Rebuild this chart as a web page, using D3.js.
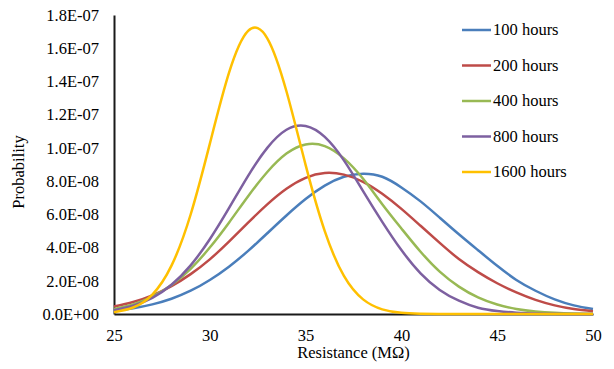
<!DOCTYPE html>
<html>
<head>
<meta charset="utf-8">
<script src="https://cdn.jsdelivr.net/npm/d3@7"></script>
<style>
  body { margin: 0; background: #fff; }
</style>
</head>
<body>
<svg width="614" height="369"></svg>
<script>
// Data, probability values in units of 1E-08
var resistance = d3.range(25, 51); // 25 .. 50 MOhm
var unit = 1e-8;

var seriesNames = ["100 hours", "200 hours", "400 hours", "800 hours", "1600 hours"];
var seriesColours = ["#4A7EBB", "#BE4B48", "#98B954", "#7D60A0", "#FFC000"];

var hours100 = [0.20, 0.35, 0.58, 0.92, 1.40, 2.05, 2.85, 3.80, 4.86, 5.93, 6.92, 7.73, 8.26,
                8.45, 8.26, 7.62, 6.78, 5.80, 4.80, 3.84, 2.90, 2.05, 1.40, 0.88, 0.52, 0.30];
var hours200 = [0.45, 0.72, 1.12, 1.68, 2.40, 3.29, 4.36, 5.50, 6.60, 7.54, 8.20, 8.49, 8.39,
                7.96, 7.24, 6.33, 5.31, 4.28, 3.31, 2.52, 1.85, 1.30, 0.85, 0.52, 0.30, 0.17];
var hours400 = [0.30, 0.58, 1.04, 1.74, 2.72, 4.00, 5.50, 7.09, 8.55, 9.66, 10.21, 10.11, 9.37,
                8.14, 6.61, 5.15, 3.75, 2.55, 1.65, 1.00, 0.57, 0.30, 0.15, 0.07, 0.03, 0.01];
var hours800 = [0.23, 0.50, 0.97, 1.76, 2.93, 4.50, 6.37, 8.32, 10.00, 11.09, 11.32, 10.66, 9.25,
                7.40, 5.55, 3.85, 2.45, 1.45, 0.80, 0.38, 0.18, 0.08, 0.03, 0.01, 0.00, 0.00];
var hours1600 = [0.11, 0.39, 1.17, 2.91, 5.99, 10.24, 14.51, 17.04, 16.60, 13.41, 8.98, 4.99, 2.29,
                 0.88, 0.28, 0.07, 0.02, 0.00, 0.00, 0.00, 0.00, 0.00, 0.00, 0.00, 0.00, 0.00];
var seriesValues = [hours100, hours200, hours400, hours800, hours1600];

// Ticks
var xTicks = [25, 30, 35, 40, 45, 50];
var yTicks = [0, 2e-8, 4e-8, 6e-8, 8e-8, 1e-7, 1.2e-7, 1.4e-7, 1.6e-7, 1.8e-7];

var font = "'Liberation Serif', serif";

// The svg
var svg = d3.select("svg");

var x = d3.scaleLinear()
    .domain([25, 50])
    .range([114, 593]);

var y = d3.scaleLinear()
    .domain([0, 1.8e-7])
    .range([314, 15]);

// Excel style 0.0E+00 labels
var sciFormat = function(v) {
    if (v === 0) return "0.0E+00";
    var e = Math.floor(Math.log10(v) + 1e-9);
    var m = v / Math.pow(10, e);
    var sign = e < 0 ? "-" : "+";
    return m.toFixed(1) + "E" + sign + (Math.abs(e) < 10 ? "0" : "") + Math.abs(e);
};

// Axes
svg.append("g")
    .attr("transform", "translate(0,314)")
    .call(d3.axisBottom(x)
        .tickValues(xTicks)
        .tickSize(0)
        .tickPadding(15)
        .tickFormat(d3.format("d")));

svg.append("g")
    .attr("transform", "translate(114,0)")
    .call(d3.axisLeft(y)
        .tickValues(yTicks)
        .tickSize(0)
        .tickPadding(15)
        .tickFormat(sciFormat));

svg.selectAll(".tick text")
    .style("font-family", font)
    .style("font-size", "16.5px")
    .attr("fill", "#000");

svg.selectAll(".domain")
    .attr("stroke", "#1a1a1a")
    .attr("stroke-width", 2);

// Lines
var line = d3.line()
    .x(function(d, i) { return x(resistance[i]); })
    .y(function(d) { return y(d * unit); })
    .curve(d3.curveNatural);

svg.append("g")
    .selectAll("path")
    .data(seriesValues)
    .enter()
    .append("path")
        .attr("d", line)
        .attr("fill", "none")
        .attr("stroke", function(d, i) { return seriesColours[i]; })
        .attr("stroke-width", 2.5)
        .attr("stroke-linejoin", "round");

// Axis titles
svg.append("text")
    .attr("x", 353.5)
    .attr("y", 358)
    .attr("text-anchor", "middle")
    .style("font-family", font)
    .style("font-size", "16.5px")
    .text("Resistance (MΩ)");

svg.append("text")
    .attr("transform", "translate(24,172) rotate(-90)")
    .attr("text-anchor", "middle")
    .style("font-family", font)
    .style("font-size", "16.5px")
    .text("Probability");

// Legend
var legend = svg.append("g")
    .selectAll("g")
    .data(seriesNames)
    .enter()
    .append("g")
        .attr("transform", function(d, i) { return "translate(462," + (30 + i * 35.5) + ")"; });

legend.append("line")
    .attr("x1", 0)
    .attr("x2", 29)
    .attr("stroke", function(d, i) { return seriesColours[i]; })
    .attr("stroke-width", 2.5);

legend.append("text")
    .attr("x", 31)
    .attr("dy", "0.33em")
    .style("font-family", font)
    .style("font-size", "16.5px")
    .text(function(d) { return d; });
</script>
</body>
</html>
